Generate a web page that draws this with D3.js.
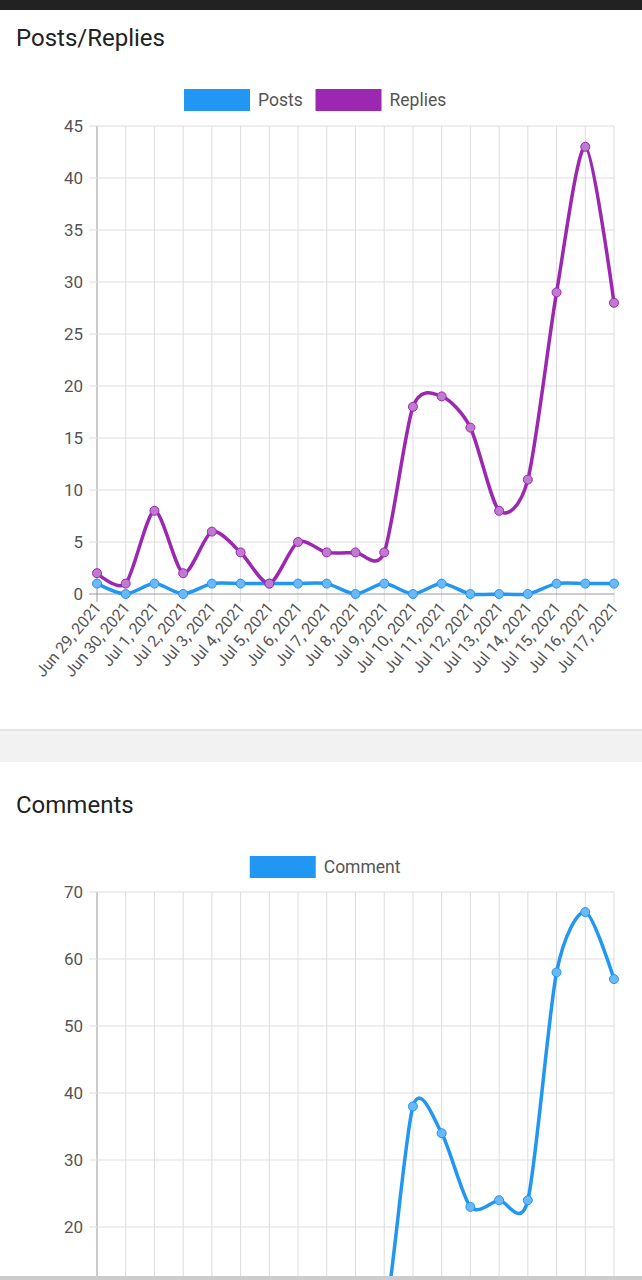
<!DOCTYPE html>
<html><head><meta charset="utf-8">
<script src="https://cdn.jsdelivr.net/npm/d3@7"></script>
<style>body{margin:0;background:#f2f2f2;font-family:Roboto,"Noto Sans",sans-serif;overflow:hidden}</style>
</head><body>
<svg id="c" width="642" height="1280"></svg>
<script>
const dates=["Jun 29, 2021","Jun 30, 2021","Jul 1, 2021","Jul 2, 2021","Jul 3, 2021","Jul 4, 2021","Jul 5, 2021","Jul 6, 2021","Jul 7, 2021","Jul 8, 2021","Jul 9, 2021","Jul 10, 2021","Jul 11, 2021","Jul 12, 2021","Jul 13, 2021","Jul 14, 2021","Jul 15, 2021","Jul 16, 2021","Jul 17, 2021"];
const posts=[1,0,1,0,1,1,1,1,1,0,1,0,1,0,0,0,1,1,1];
const replies=[2,1,8,2,6,4,1,5,4,4,4,18,19,16,8,11,29,43,28];
const comments=[3,1,9,3,7,5,2,6,5,5,6,38,34,23,24,24,58,67,57];
const ticks1=[0,5,10,15,20,25,30,35,40,45];
const ticks2=[20,30,40,50,60,70];
const BLUE="#2196f3",PURPLE="#9c27b0";
const svg=d3.select("#c");
svg.append("rect").attr("y",0).attr("width",642).attr("height",731).attr("fill","#e4e4e4");
svg.append("rect").attr("width",642).attr("height",729).attr("fill","#fff");
svg.append("rect").attr("y",762).attr("width",642).attr("height",520).attr("fill","#fff");
svg.append("rect").attr("width",642).attr("height",10).attr("fill","#222");
function title(t,y){svg.append("text").attr("x",16).attr("y",y).attr("font-size",24).attr("fill","#222").text(t);}
title("Posts/Replies",46);title("Comments",813);
function legend(items,y){
  const w=items.map(d=>66+8+d.n.length*9.5+10);
  let x=321-d3.sum(w)/2+4;
  items.forEach((d,i)=>{svg.append("rect").attr("x",x).attr("y",y-11).attr("width",66).attr("height",22).attr("fill",d.c);
    svg.append("text").attr("x",x+74).attr("y",y+6).attr("font-size",17.5).attr("fill","#555").text(d.n);x+=w[i];});
}
legend([{n:"Posts",c:BLUE},{n:"Replies",c:PURPLE}],100);
legend([{n:"Comment",c:BLUE}],867);
const x=d3.scalePoint().domain(dates).range([97,614]);
function chart(y,ticks,series,clip,showX){
  const g=svg.append("g");
  const cid="cl"+Math.random().toString(36).slice(2);
  svg.append("clipPath").attr("id",cid).append("rect").attr("x",0).attr("y",clip[0]).attr("width",642).attr("height",clip[1]-clip[0]);
  const gg=g.append("g").attr("clip-path",`url(#${cid})`);
  dates.forEach(d=>gg.append("line").attr("x1",x(d)).attr("x2",x(d)).attr("y1",y.range()[1]).attr("y2",y.range()[0]+(showX?8:0)).attr("stroke",d===dates[0]?"#999":"#ddd"));
  ticks.forEach(t=>{gg.append("line").attr("x1",89).attr("x2",614).attr("y1",y(t)).attr("y2",y(t)).attr("stroke",t===0?"#999":"#ddd");
    g.append("text").attr("x",83).attr("y",y(t)+6).attr("text-anchor","end").attr("font-size",17).attr("fill","#555").text(t);});
  const line=d3.line().x((d,i)=>x(dates[i])).y(d=>y(d)).curve(d3.curveCardinal.tension(0.2));
  series.forEach(s=>{gg.append("path").attr("d",line(s.v)).attr("fill","none").attr("stroke",s.c).attr("stroke-width",3.5);
    s.v.forEach((v,i)=>gg.append("circle").attr("cx",x(dates[i])).attr("cy",y(v)).attr("r",4.5).attr("fill",s.f).attr("stroke",s.c).attr("stroke-width",1));});
  if(showX) dates.forEach(d=>g.append("text").attr("transform",`translate(${x(d)+5},${y(0)+14}) rotate(-50)`).attr("text-anchor","end").attr("font-size",16).attr("fill","#555").text(d));
}
chart(d3.scaleLinear().domain([0,45]).range([594,126]),ticks1,
 [{v:posts,c:BLUE,f:"#6ab8f5"},{v:replies,c:PURPLE,f:"#c07ad0"}],[115,700],true);
chart(d3.scaleLinear().domain([0,70]).range([1361,892]),ticks2,
 [{v:comments,c:BLUE,f:"#6ab8f5"}],[880,1276],false);
svg.append("rect").attr("y",1276).attr("width",642).attr("height",4).attr("fill","#ccc");
</script>
</body></html>
